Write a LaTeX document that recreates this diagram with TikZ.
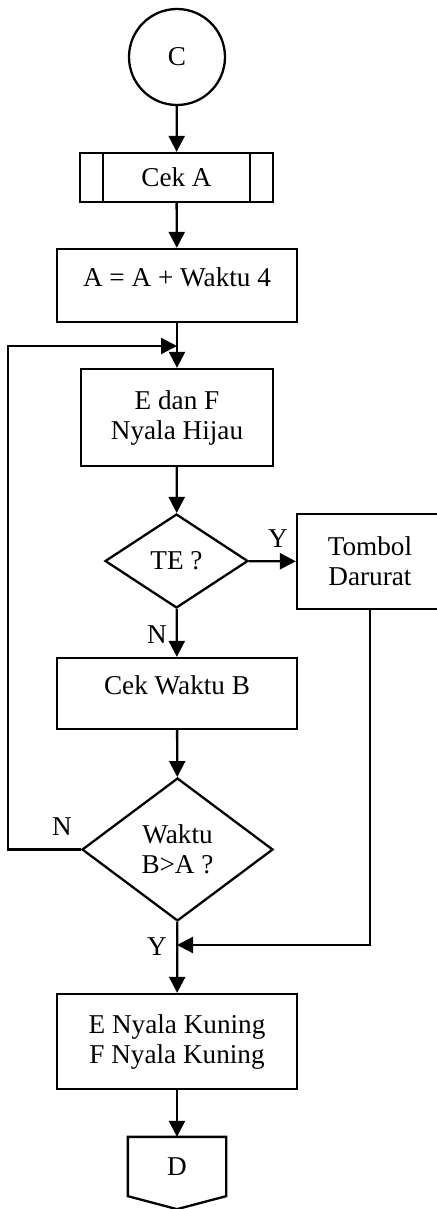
\documentclass[tikz,border=0pt]{standalone}
\usepackage{fontspec}
\setmainfont{Liberation Serif}
\usetikzlibrary{arrows.meta,shapes.geometric}

\begin{document}
\begin{tikzpicture}[
  x=0.5pt, y=-0.5pt,
  font=\fontsize{13.6}{15}\selectfont,
  line width=1.15pt,
  box/.style={draw, align=center, inner sep=0pt},
  dec/.style={draw, diamond, align=center, inner sep=0pt},
  arr/.style={-{Triangle[length=8pt,width=8pt]}},
  lab/.style={inner sep=0pt}
]
\useasboundingbox (0,0) rectangle (437,1209);
\clip (0,0) rectangle (437,1209);

\node[draw, circle, minimum size=48pt, inner sep=0pt] (c) at (177,57) {C};
\node[box, minimum width=96.5pt, minimum height=24.5pt] (ceka) at (176.5,177.5) {Cek A};
\draw ([xshift=12pt]ceka.north west) -- ([xshift=12pt]ceka.south west);
\draw ([xshift=-12pt]ceka.north east) -- ([xshift=-12pt]ceka.south east);
\node[box, minimum width=120pt, minimum height=36.5pt, text depth=8pt] (upd) at (177,285.5) {A = A + Waktu 4};
\node[box, minimum width=96pt, minimum height=48.5pt] (hijau) at (177,417.5) {E dan F\\Nyala Hijau};
\node[dec, minimum width=71.5pt, minimum height=47pt] (te) at (176.5,561) {TE ?};
\node[box, minimum width=73pt, minimum height=47.5pt] (tombol) at (370,561.5) {Tombol\\Darurat};
\node[box, minimum width=120pt, minimum height=35.5pt, text depth=8pt] (cekb) at (177,693.5) {Cek Waktu B};
\node[dec, minimum width=95.5pt, minimum height=71.5pt] (waktu) at (177.5,849.5) {Waktu\\B>A ?};
\node[box, minimum width=120pt, minimum height=47.5pt] (kuning) at (177,1041.5) {E Nyala Kuning\\F Nyala Kuning};
\node[minimum width=48pt, minimum height=28.5pt, inner sep=0pt] (d) at (177,1166.5) {D};
\draw (d.north west) -- (d.north east) -- (d.south east) -- ([yshift=-6.5pt]d.south)
  -- (d.south west) -- cycle;

% branch labels
\node[lab] (ya1) at (278,539) {Y};
\node[lab] (no1) at (157,635) {N};
\node[lab] (no2) at (62,827) {N};
\node[lab] (ya2) at (157,947) {Y};

\coordinate (loop) at (177,346);
\coordinate (lft) at (8,346);
\coordinate (merge) at (177,945);

\draw[arr] (c) -- (ceka);
\draw[arr] (ceka) -- (upd);
\draw[arr] (upd) -- (hijau);
\draw[arr] (hijau) -- (te);
\draw[arr] (te) -- (tombol);
\draw[arr] (te) -- (cekb);
\draw[arr] (cekb) -- (waktu);
\draw[arr] (waktu.west) -| (lft) -- (loop);
\draw[arr] (waktu) -- (kuning);
\draw[arr] (tombol.south) |- (merge);
\draw[arr] (kuning) -- (d);
\end{tikzpicture}
\end{document}
